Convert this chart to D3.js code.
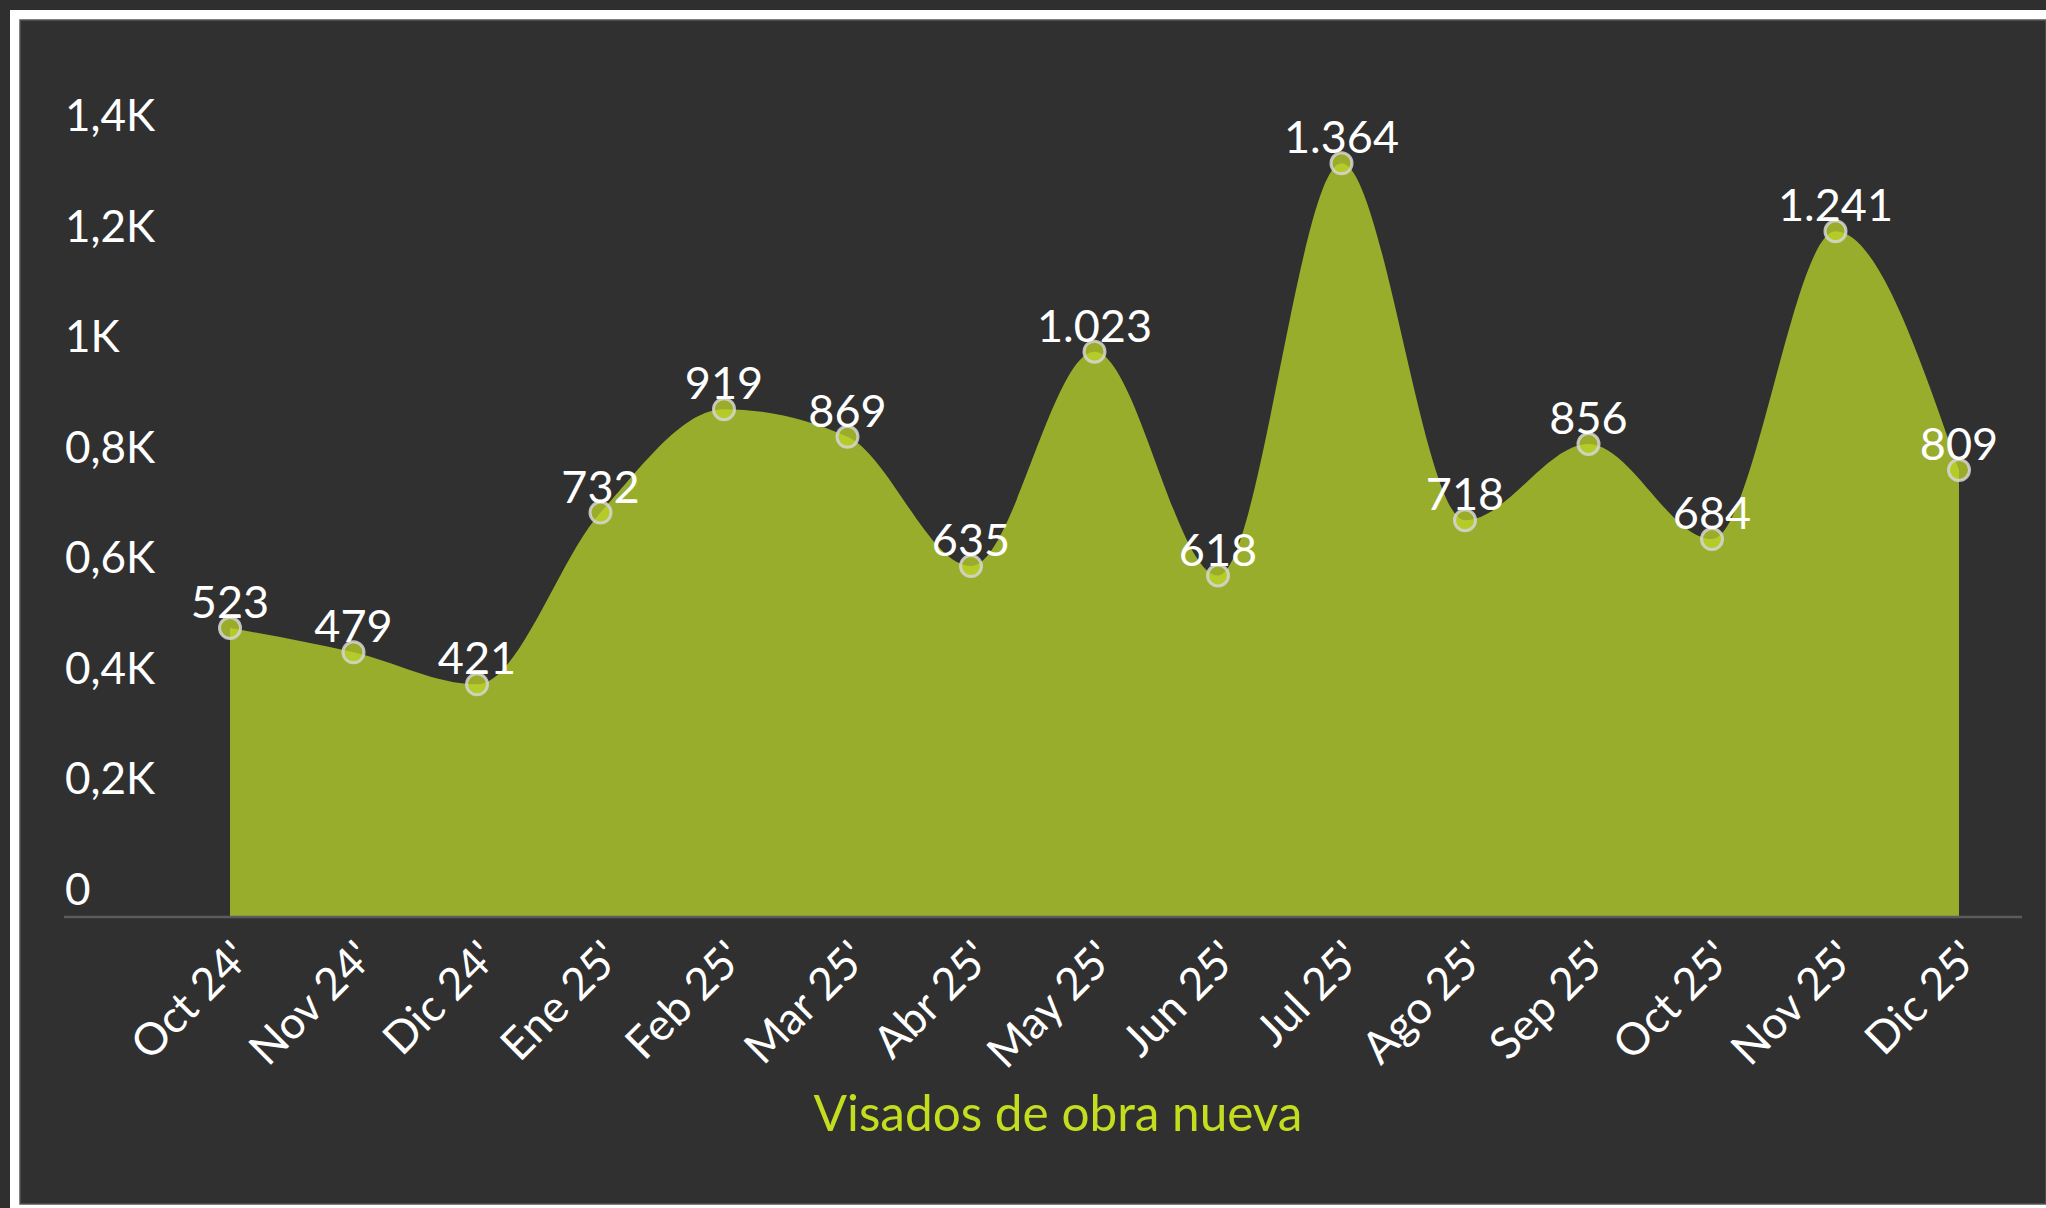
<!DOCTYPE html>
<html>
<head>
<meta charset="utf-8">
<script src="https://cdn.jsdelivr.net/npm/d3@7"></script>
<style>
  html, body { margin: 0; padding: 0; background: #2f2f2f; }
  svg { display: block; }
  text { font-family: Lato, "Noto Sans", sans-serif; }
</style>
</head>
<body>
<svg id="chart" width="2046" height="1208"></svg>
<script>
// Monthly permits for new construction
const months = ["Oct 24'", "Nov 24'", "Dic 24'", "Ene 25'", "Feb 25'", "Mar 25'", "Abr 25'",
                "May 25'", "Jun 25'", "Jul 25'", "Ago 25'", "Sep 25'", "Oct 25'", "Nov 25'", "Dic 25'"];
const visados = [523, 479, 421, 732, 919, 869, 635, 1023, 618, 1364, 718, 856, 684, 1241, 809];
const yTicks = [0, 200, 400, 600, 800, 1000, 1200, 1400];
const yTickLabels = ["0", "0,2K", "0,4K", "0,6K", "0,8K", "1K", "1,2K", "1,4K"];
const seriesName = "Visados de obra nueva";

const W = 2046, H = 1208;
const svg = d3.select("#chart");

// Panel frame
svg.append("rect").attr("x", 0).attr("y", 0).attr("width", W).attr("height", H).attr("fill", "#2f2f2f");
svg.append("rect").attr("x", 10).attr("y", 10).attr("width", W - 10).attr("height", H - 10).attr("fill", "#ffffff");
svg.append("rect").attr("x", 20).attr("y", 20).attr("width", W - 20).attr("height", 1184)
  .attr("fill", "#303030").attr("stroke", "#555").attr("stroke-width", 1.5);

const plot = { left: 230, right: 1959, top: 143.4, bottom: 917 };

const x = d3.scalePoint().domain(months).range([plot.left, plot.right]);
const y = d3.scaleLinear().domain([0, 1400]).range([plot.bottom, plot.top]);

const data = months.map((m, i) => ({ m, v: visados[i] }));

// Filled area
const area = d3.area()
  .x(d => x(d.m))
  .y0(y(0))
  .y1(d => y(d.v))
  .curve(d3.curveMonotoneX);

svg.append("path").datum(data).attr("d", area).attr("fill", "#99ad2d");

// Baseline
svg.append("line")
  .attr("x1", 64).attr("x2", 2022)
  .attr("y1", y(0)).attr("y2", y(0))
  .attr("stroke", "#5c5c5c").attr("stroke-width", 2.5);

// Y axis labels (sit above their value level)
const yAxis = svg.append("g");
yAxis.selectAll("text").data(yTicks).join("text")
  .attr("x", 65)
  .attr("y", d => y(d) - 12)
  .attr("fill", "#ffffff")
  .attr("font-size", 44)
  .text((d, i) => yTickLabels[i]);

// X axis labels
const xAxis = svg.append("g");
xAxis.selectAll("text").data(months).join("text")
  .attr("transform", d => `translate(${x(d) + 22},${y(0) + 43}) rotate(-45)`)
  .attr("text-anchor", "end")
  .attr("fill", "#ffffff")
  .attr("font-size", 44.5)
  .text(d => d);

// Point markers
svg.append("g").selectAll("circle").data(data).join("circle")
  .attr("cx", d => x(d.m))
  .attr("cy", d => y(d.v))
  .attr("r", 10.5)
  .attr("fill", "#bfd62a")
  .attr("fill-opacity", 0.75)
  .attr("stroke", "#d6d6d6")
  .attr("stroke-opacity", 0.85)
  .attr("stroke-width", 3);

// Value labels
const fmt = v => d3.format(",")(v).replace(/,/g, ".");
svg.append("g").selectAll("text").data(data).join("text")
  .attr("x", d => x(d.m))
  .attr("y", d => y(d.v) - 10)
  .attr("text-anchor", "middle")
  .attr("fill", "#ffffff")
  .attr("font-size", 45)
  .text(d => fmt(d.v));

// Series title
svg.append("text")
  .attr("x", 1058)
  .attr("y", 1131)
  .attr("text-anchor", "middle")
  .attr("fill", "#c4dd1e")
  .attr("font-size", 49.5)
  .text(seriesName);
</script>
</body>
</html>
